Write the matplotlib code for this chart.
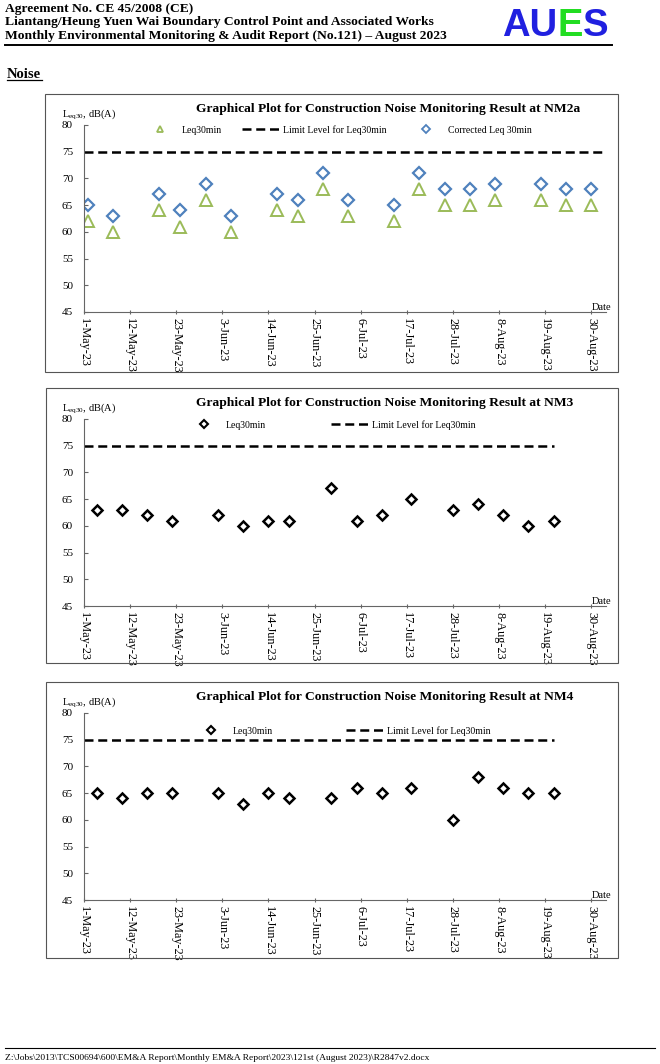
import matplotlib
matplotlib.use('Agg')
import matplotlib.pyplot as plt
import pandas as pd
from matplotlib.lines import Line2D
from matplotlib.patches import Rectangle

plt.rcParams['font.family'] = ['Liberation Serif', 'DejaVu Serif']
plt.rcParams['mathtext.fontset'] = 'custom'
plt.rcParams['mathtext.rm'] = 'Liberation Serif'

# ---- data ----
nm2a_dates = ['2023-05-02', '2023-05-08', '2023-05-19', '2023-05-24', '2023-05-30', '2023-06-05',
              '2023-06-16', '2023-06-21', '2023-06-27', '2023-07-03', '2023-07-14', '2023-07-20',
              '2023-07-26', '2023-08-01', '2023-08-07', '2023-08-18', '2023-08-24', '2023-08-30']
nm2a_leq = [62, 60, 64, 61, 66, 60, 64, 63, 68, 63, 62, 68, 65, 65, 66, 66, 65, 65]
nm2a_corrected = [65, 63, 67, 64, 69, 63, 67, 66, 71, 66, 65, 71, 68, 68, 69, 69, 68, 68]

nm3_dates = ['2023-05-04', '2023-05-10', '2023-05-16', '2023-05-22', '2023-06-02', '2023-06-08',
             '2023-06-14', '2023-06-19', '2023-06-29', '2023-07-05', '2023-07-11', '2023-07-18',
             '2023-07-28', '2023-08-03', '2023-08-09', '2023-08-15', '2023-08-21']
nm3_leq = [63, 63, 62, 61, 62, 60, 61, 61, 67, 61, 62, 65, 63, 64, 62, 60, 61]

nm4_dates = ['2023-05-04', '2023-05-10', '2023-05-16', '2023-05-22', '2023-06-02', '2023-06-08',
             '2023-06-14', '2023-06-19', '2023-06-29', '2023-07-05', '2023-07-11', '2023-07-18',
             '2023-07-28', '2023-08-03', '2023-08-09', '2023-08-15', '2023-08-21']
nm4_leq = [65, 64, 65, 65, 65, 63, 65, 64, 64, 66, 65, 66, 60, 68, 66, 65, 65]

limit_level = 75
tick_dates = pd.date_range('2023-05-01', '2023-08-30', freq='11D')
tick_labels = [d.strftime('%-d-%b-%y') for d in tick_dates]
y_ticks = [45, 50, 55, 60, 65, 70, 75, 80]
x_start = pd.Timestamp('2023-05-01')
x_end = pd.Timestamp('2023-09-02 12:00')

W, H = 660, 1064
fig = plt.figure(figsize=(W / 100, H / 100), dpi=100)


def fx(px):
    return px / W


def fy(py):
    return 1 - py / H


# ---- page header ----
header = ['Agreement No. CE 45/2008 (CE)',
          'Liantang/Heung Yuen Wai Boundary Control Point and Associated Works',
          'Monthly Environmental Monitoring & Audit Report (No.121) \u2013 August 2023']
for i, line in enumerate(header):
    fig.text(fx(5), fy(12 + 13.5 * i), line, fontsize=9.7, fontweight='bold', va='baseline')
fig.add_artist(Line2D([fx(5), fx(612)], [fy(45), fy(45)], color='black', lw=1.4))

renderer = fig.canvas.get_renderer()
x_logo = 502
for part, col in [('AU', '#2020e0'), ('E', '#22dd22'), ('S', '#2020e0')]:
    t = fig.text(fx(x_logo), fy(36), part, fontsize=27.5, fontweight='bold', color=col,
                 family='Liberation Sans', va='baseline')
    x_logo += t.get_window_extent(renderer).width

fig.text(fx(7), fy(78), 'Noise', fontsize=10.5, fontweight='bold', va='baseline')
fig.add_artist(Line2D([fx(7), fx(42)], [fy(80), fy(80)], color='black', lw=0.9))

# footer
fig.add_artist(Line2D([fx(5), fx(655)], [fy(1048), fy(1048)], color='black', lw=0.8))
fig.text(fx(5), fy(1060), r'Z:\Jobs\2013\TCS00694\600\EM&A Report\Monthly EM&A Report\2023\121st (August 2023)\R2847v2.docx',
         fontsize=6.8, va='baseline')


def make_panel(box_top, box_left, box_bottom, title):
    fig.add_artist(Rectangle((fx(box_left), fy(box_bottom)), (618 - box_left) / W, (box_bottom - box_top) / H,
                             transform=fig.transFigure, fill=False, edgecolor='#555555', lw=0.8))
    ax = fig.add_axes([fx(84), fy(box_top + 218), (606 - 84) / W, 187 / H])
    ax.set_xlim(x_start, x_end)
    ax.set_ylim(45, 80)
    for s in ['top', 'right']:
        ax.spines[s].set_visible(False)
    for s in ['left', 'bottom']:
        ax.spines[s].set_color('#666666')
        ax.spines[s].set_linewidth(0.8)
    ax.set_xticks(tick_dates)
    ax.set_xticklabels(tick_labels, rotation=270, fontsize=8.8)
    ax.set_yticks(y_ticks)
    ax.tick_params(axis='y', labelsize=8, length=3, direction='in', color='#666666', pad=8)
    ax.tick_params(axis='x', length=3, direction='inout', color='#666666', pad=3)
    ax.patch.set_alpha(0)
    fig.text(fx(196), fy(box_top + 18), title, fontsize=9.7, fontweight='bold', va='baseline')
    fig.text(fx(62), fy(box_top + 23), r'L$_{\mathregular{eq30}}$, dB(A)', fontsize=7.5, va='baseline')
    fig.text(fx(602), fy(box_top + 216), 'Date', fontsize=7.5, ha='center', va='baseline')
    return ax


dash = (0, (3.6, 1.9))

# ---- NM2a ----
ax1 = make_panel(94, 45, 372, 'Graphical Plot for Construction Noise Monitoring Result at NM2a')
ax1.plot(pd.to_datetime(nm2a_dates), nm2a_leq, linestyle='none', marker='^', ms=8,
         mfc='none', mec='#9bbb59', mew=1.4, label='Leq30min')
ax1.plot([x_start, x_end], [limit_level, limit_level], color='black', lw=1.8, linestyle=dash,
         label='Limit Level for Leq30min')
ax1.plot(pd.to_datetime(nm2a_dates), nm2a_corrected, linestyle='none', marker='D', ms=6,
         mfc='none', mec='#4f81bd', mew=1.6, label='Corrected Leq 30min')
h1 = [Line2D([], [], linestyle='none', marker='^', ms=5, mfc='none', mec='#9bbb59', mew=1.3),
      Line2D([], [], color='black', lw=1.8, linestyle=dash),
      Line2D([], [], linestyle='none', marker='D', ms=4, mfc='none', mec='#4f81bd', mew=1.3)]
fig.legend(h1, ['Leq30min', 'Limit Level for Leq30min', 'Corrected Leq 30min'], ncol=3,
           loc='center left', bbox_to_anchor=(fx(141), fy(130)), frameon=False, fontsize=7,
           handlelength=3.9, handletextpad=0.3, columnspacing=2.1, borderpad=0, borderaxespad=0)

# ---- NM3 ----
ax2 = make_panel(388, 46, 663, 'Graphical Plot for Construction Noise Monitoring Result at NM3')
ax2.plot(pd.to_datetime(nm3_dates), nm3_leq, linestyle='none', marker='D', ms=5.5,
         mfc='none', mec='black', mew=1.8)
ax2.plot([x_start, pd.Timestamp(nm3_dates[-1])], [limit_level, limit_level], color='black', lw=1.8,
         linestyle=dash)
h2 = [Line2D([], [], linestyle='none', marker='D', ms=4, mfc='none', mec='black', mew=1.5),
      Line2D([], [], color='black', lw=1.8, linestyle=dash)]
fig.legend(h2, ['Leq30min', 'Limit Level for Leq30min'], ncol=2,
           loc='center left', bbox_to_anchor=(fx(185), fy(425)), frameon=False, fontsize=7,
           handlelength=3.9, handletextpad=0.3, columnspacing=6.7, borderpad=0, borderaxespad=0)

# ---- NM4 ----
ax3 = make_panel(682, 46, 958, 'Graphical Plot for Construction Noise Monitoring Result at NM4')
ax3.plot(pd.to_datetime(nm4_dates), nm4_leq, linestyle='none', marker='D', ms=5.5,
         mfc='none', mec='black', mew=1.8)
ax3.plot([x_start, pd.Timestamp(nm4_dates[-1])], [limit_level, limit_level], color='black', lw=1.8,
         linestyle=dash)
h3 = [Line2D([], [], linestyle='none', marker='D', ms=4, mfc='none', mec='black', mew=1.5),
      Line2D([], [], color='black', lw=1.8, linestyle=dash)]
fig.legend(h3, ['Leq30min', 'Limit Level for Leq30min'], ncol=2,
           loc='center left', bbox_to_anchor=(fx(192), fy(731)), frameon=False, fontsize=7,
           handlelength=3.9, handletextpad=0.3, columnspacing=7.5, borderpad=0, borderaxespad=0)

fig.savefig('out.png', dpi=100)
